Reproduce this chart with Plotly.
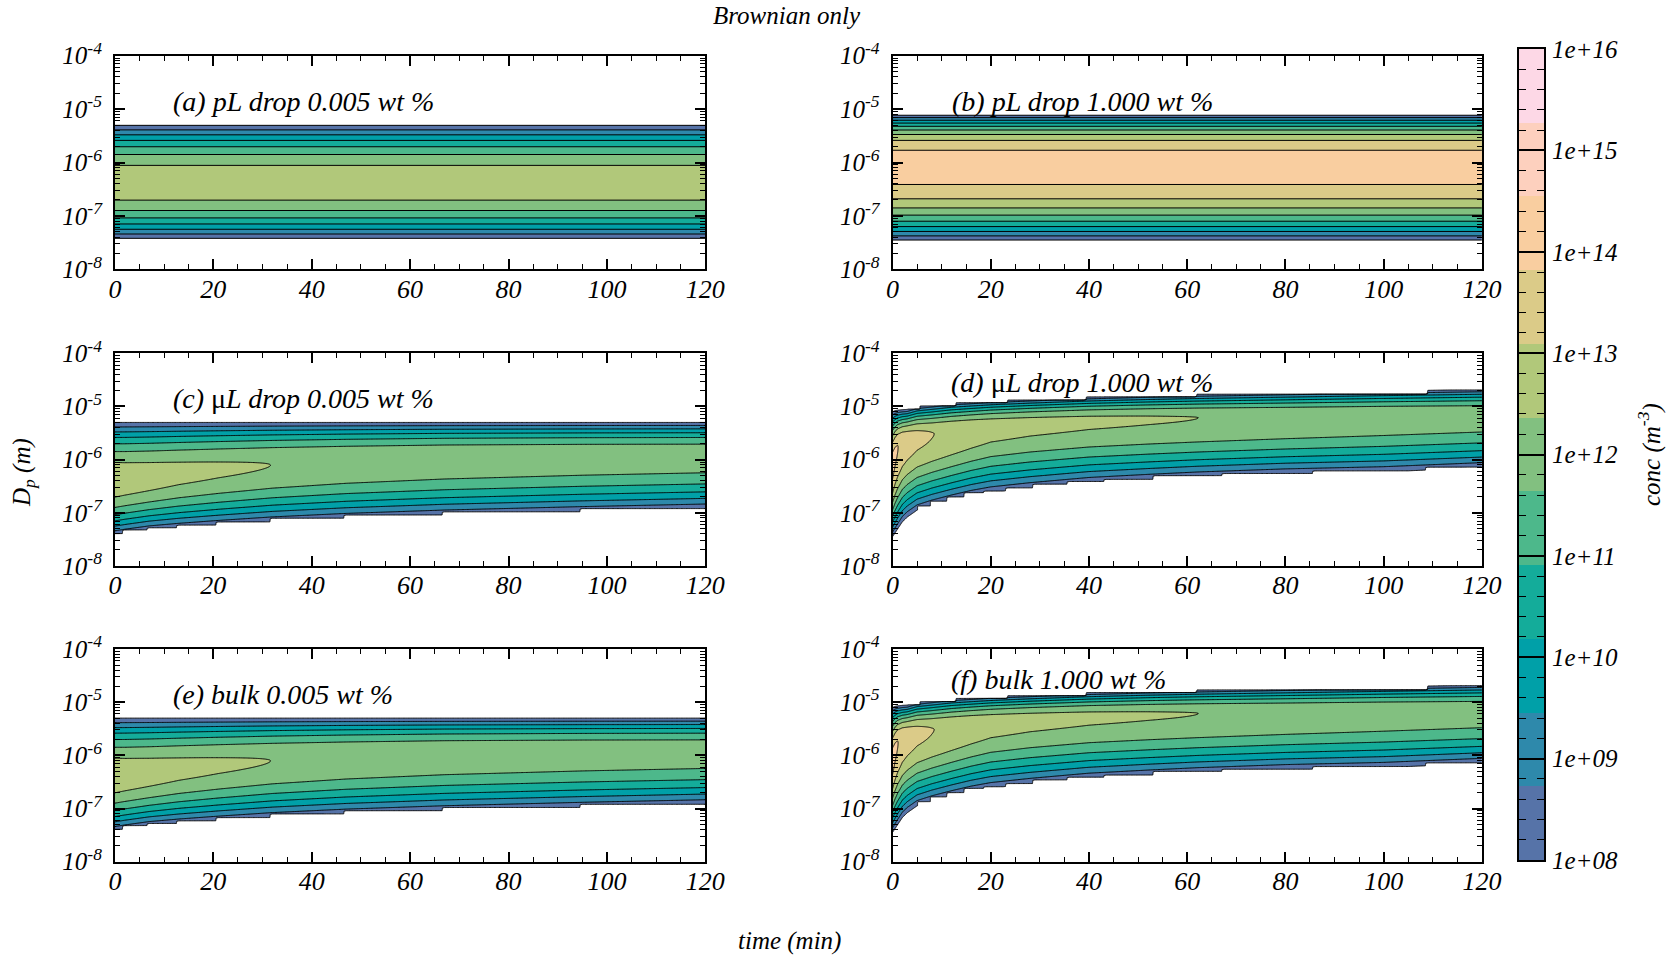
import numpy as np
import plotly.graph_objects as go

# ---------------------------------------------------------------------------
# Colour levels: log10(conc) from 1e8 to 1e16 split into 11 equal bands
# ---------------------------------------------------------------------------
LOG_CONC_MIN = 8.0
LOG_CONC_MAX = 16.0
N_BANDS = 11
BAND_COLORS = ["#5673a8", "#2e89ab", "#00a0a8", "#14ac9a", "#4db88b", "#82c080",
               "#b1c87a", "#dbcb88", "#f9cea0", "#fdd0be", "#fdd8e6"]

# ---------------------------------------------------------------------------
# Size-distribution parameters versus time (min):
#   PEAK  : log10 of the peak concentration (m^-3)
#   MODE  : log10 of the modal diameter (m)
#   EDGE_UP / EDGE_LO : log10 diameter where conc falls to 1e8 m^-3
#   CUT_* : size-grid limits (log10 m), piecewise constant from CUT_*_T on
# ---------------------------------------------------------------------------
# (a) pL drop 0.005 wt %
T_A = [0, 120]
PEAK_A = [12.82, 12.82]
MODE_A = [-6.387, -6.387]
EDGE_UP_A = [-5.304, -5.304]
EDGE_LO_A = [-7.42, -7.42]
SHAPE_A = (2.0, 2.0)

# (b) pL drop 1.000 wt %
T_B = [0, 120]
PEAK_B = [14.10, 14.10]
MODE_B = [-6.07, -6.07]
EDGE_UP_B = [-5.115, -5.115]
EDGE_LO_B = [-7.452, -7.452]
SHAPE_B = (2.65, 2.2)

# (c) uL drop 0.005 wt %  /  (e) bulk 0.005 wt %
T_C = [0, 2, 7, 13, 21, 32, 47, 67, 95, 120]
PEAK_C = [12.82, 12.77, 12.68, 12.57, 12.47, 12.36, 12.27, 12.20, 12.13, 12.08]
MODE_C = [-6.387, -6.37, -6.32, -6.25, -6.18, -6.10, -6.03, -5.97, -5.93, -5.91]
EDGE_UP_C = [-5.30, -5.30, -5.30, -5.30, -5.30, -5.30, -5.30, -5.30, -5.30, -5.30]
EDGE_LO_C = [-7.42, -7.39, -7.327, -7.283, -7.233, -7.17, -7.107, -7.045, -6.98, -6.93]
SHAPE_C = (2.0, 2.0)
CUT_LO_T_C = [0, 2, 7, 13, 21, 32, 47, 67, 95]
CUT_LO_C = [-7.39, -7.327, -7.283, -7.233, -7.17, -7.107, -7.045, -6.98, -6.92]

# (d) uL drop 1.000 wt %  /  (f) bulk 1.000 wt %
T_D = [0, 0.5, 1, 2, 3, 5, 8, 12, 16, 20, 28, 40, 52, 62, 80, 100, 120]
PEAK_D = [14.10, 13.96, 13.85, 13.62, 13.48, 13.28, 13.11, 12.95, 12.80, 12.66,
          12.56, 12.47, 12.41, 12.365, 12.27, 12.18, 12.10]
MODE_D = [-6.07, -5.90, -5.78, -5.67, -5.62, -5.56, -5.52, -5.46, -5.40, -5.35,
          -5.30, -5.25, -5.225, -5.21, -5.19, -5.16, -5.14]
EDGE_UP_D = [-5.10, -5.08, -5.07, -5.06, -5.055, -5.00, -4.97, -4.93, -4.91, -4.89,
             -4.86, -4.82, -4.79, -4.77, -4.74, -4.71, -4.68]
EDGE_LO_D = [-7.45, -7.38, -7.31, -7.17, -7.08, -6.95, -6.86, -6.765, -6.68, -6.615,
             -6.536, -6.436, -6.376, -6.33, -6.27, -6.23, -6.15]
SHAPE_D = (2.0, 2.0)
CUT_LO_T_D = [0, 5.2, 7.8, 11.3, 14.9, 18.8, 23.3, 28.6, 35.6, 43.1, 53.3, 67.4, 86.0, 108.9]
CUT_LO_D = [-9.0, -6.87, -6.78, -6.70, -6.625, -6.59, -6.53, -6.465, -6.415, -6.37,
            -6.30, -6.26, -6.21, -6.14]
CUT_UP_T_D = [0, 5.6, 12.6, 23.2, 39.5, 62.0, 108.9]
CUT_UP_D = [-5.05, -4.99, -4.93, -4.88, -4.82, -4.77, -4.69]

PANEL_LABELS = ["(a) pL drop 0.005 wt %", "(b) pL drop 1.000 wt %",
                "(c) <span style='font-style:normal'>\u03bc</span>L drop 0.005 wt %",
                "(d) <span style='font-style:normal'>\u03bc</span>L drop 1.000 wt %",
                "(e) bulk 0.005 wt %", "(f) bulk 1.000 wt %"]
LABEL_T = [11.5, 11.7, 11.5, 11.5, 11.5, 11.5]
LABEL_LOGD = [-4.85, -4.85, -4.85, -4.55, -4.85, -4.57]

TIME_TICKS = [0, 20, 40, 60, 80, 100, 120]
DP_TICK_EXP = [-8, -7, -6, -5, -4]
CONC_TICK_EXP = [8, 9, 10, 11, 12, 13, 14, 15, 16]

# ---------------------------------------------------------------------------
# Grids
# ---------------------------------------------------------------------------
LOGD_GRID = np.round(np.arange(-7.8, -4.395, 0.01), 3)
TIME_STEADY = np.array([0.0, 120.0])
TIME_C = np.arange(0.0, 120.001, 0.5)
TIME_D = np.concatenate([np.arange(0.0, 10.0, 0.1), np.arange(10.0, 120.001, 0.5)])


def step_values(times, step_t, step_v):
    idx = np.searchsorted(np.asarray(step_t, float), times, side="right") - 1
    return np.asarray(step_v, float)[np.clip(idx, 0, None)]


def conc_field(times, T, peak, mode, edge_up, edge_lo, shape,
               cut_lo=None, cut_up=None):
    p = np.interp(times, T, peak)[None, :]
    m = np.interp(times, T, mode)[None, :]
    eu = np.interp(times, T, edge_up)[None, :]
    el = np.interp(times, T, edge_lo)[None, :]
    x = LOGD_GRID[:, None]
    above = x >= m
    u = np.where(above, (x - m) / (eu - m), (m - x) / (m - el))
    k = np.where(above, shape[0], shape[1])
    z = p - (p - LOG_CONC_MIN) * np.abs(u) ** k
    if cut_lo is not None:
        lo = step_values(times, *cut_lo)[None, :]
        z = np.where(x < lo, 5.0, z)
    if cut_up is not None:
        up = step_values(times, *cut_up)[None, :]
        z = np.where(x > up, 5.0, z)
    return np.clip(z, 5.0, None).astype(np.float32)


FIELDS = [
    (TIME_STEADY, conc_field(TIME_STEADY, T_A, PEAK_A, MODE_A, EDGE_UP_A, EDGE_LO_A, SHAPE_A)),
    (TIME_STEADY, conc_field(TIME_STEADY, T_B, PEAK_B, MODE_B, EDGE_UP_B, EDGE_LO_B, SHAPE_B)),
    (TIME_C, conc_field(TIME_C, T_C, PEAK_C, MODE_C, EDGE_UP_C, EDGE_LO_C, SHAPE_C,
                        cut_lo=(CUT_LO_T_C, CUT_LO_C))),
    (TIME_D, conc_field(TIME_D, T_D, PEAK_D, MODE_D, EDGE_UP_D, EDGE_LO_D, SHAPE_D,
                        cut_lo=(CUT_LO_T_D, CUT_LO_D), cut_up=(CUT_UP_T_D, CUT_UP_D))),
    (TIME_C, conc_field(TIME_C, T_C, PEAK_C, MODE_C, EDGE_UP_C, EDGE_LO_C, SHAPE_C,
                        cut_lo=(CUT_LO_T_C, CUT_LO_C))),
    (TIME_D, conc_field(TIME_D, T_D, PEAK_D, MODE_D, EDGE_UP_D, EDGE_LO_D, SHAPE_D,
                        cut_lo=(CUT_LO_T_D, CUT_LO_D), cut_up=(CUT_UP_T_D, CUT_UP_D))),
]

# ---------------------------------------------------------------------------
# Colour scales
# ---------------------------------------------------------------------------
band_size = (LOG_CONC_MAX - LOG_CONC_MIN) / N_BANDS
n_levels = N_BANDS + 1
# contour fill: position 0 is the region below 1e8 (white); band k sits at (k+1)/n_levels
contour_scale = [[0.0, "#ffffff"], [0.5 / n_levels, "#ffffff"]]
for k, c in enumerate(BAND_COLORS):
    contour_scale += [[(k + 0.5) / n_levels, c], [min((k + 1.5) / n_levels, 1.0), c]]
contour_scale += [[(N_BANDS + 0.5) / n_levels, BAND_COLORS[-1]], [1.0, BAND_COLORS[-1]]]

bar_scale = []
for k, c in enumerate(BAND_COLORS):
    bar_scale += [[k / N_BANDS, c], [(k + 1) / N_BANDS, c]]

# ---------------------------------------------------------------------------
# Figure
# ---------------------------------------------------------------------------
W, H = 1668, 958
FONT = "Liberation Serif"
X_DOMAINS = [[114.9 / W, 705.3 / W], [892.5 / W, 1481.9 / W]]
Y_DOMAINS = [[1 - 269.3 / H, 1 - 55.7 / H], [1 - 566.0 / H, 1 - 353.3 / H],
             [1 - 861.7 / H, 1 - 649.0 / H]]

fig = go.Figure()
layout = dict(
    width=W, height=H, margin=dict(l=0, r=0, t=0, b=0, autoexpand=False),
    paper_bgcolor="white", plot_bgcolor="white", showlegend=False,
    hovermode=False,
)

x_tick_font = dict(family=FONT, size=26, color="black", style="italic")
y_tick_font = dict(family=FONT, size=25, color="black", style="italic")
minor_y_vals = [k * 10.0 ** e for e in DP_TICK_EXP[:-1] for k in range(2, 10)]

annotations = []
for i, (times, z) in enumerate(FIELDS):
    row, col = divmod(i, 2)
    n = i + 1
    xname, yname = ("x", "y") if n == 1 else (f"x{n}", f"y{n}")
    fig.add_trace(go.Contour(
        x=times, y=10.0 ** LOGD_GRID, z=z,
        xaxis=xname, yaxis=yname,
        autocontour=False,
        contours=dict(start=LOG_CONC_MIN, end=LOG_CONC_MAX, size=band_size,
                      coloring="fill", showlines=True),
        line=dict(color="black", width=1, smoothing=0),
        colorscale=contour_scale, showscale=False, hoverinfo="skip",
    ))
    xkey = "xaxis" if n == 1 else f"xaxis{n}"
    ykey = "yaxis" if n == 1 else f"yaxis{n}"
    layout[xkey] = dict(
        domain=X_DOMAINS[col], anchor=yname, range=[0, 120], automargin=False,
        tickmode="array", tickvals=TIME_TICKS, ticks="inside", ticklen=10,
        tickwidth=1.5, tickcolor="black",
        minor=dict(dtick=5, tick0=0, ticks="inside", ticklen=5, tickwidth=1.2,
                   tickcolor="black"),
        showline=True, linewidth=2, linecolor="black", mirror="allticks",
        showgrid=False, zeroline=False, tickfont=x_tick_font, ticklabelstandoff=-5,
    )
    layout[ykey] = dict(
        domain=Y_DOMAINS[row], anchor=xname, type="log", range=[-8, -4],
        automargin=False,
        tickmode="array", tickvals=[10.0 ** e for e in DP_TICK_EXP],
        ticktext=[f"10<sup>{e}</sup>" for e in DP_TICK_EXP],
        ticks="inside", ticklen=10, tickwidth=1.5, tickcolor="black",
        minor=dict(tickmode="array", tickvals=minor_y_vals, ticks="inside",
                   ticklen=5, tickwidth=1.2, tickcolor="black"),
        showline=True, linewidth=2, linecolor="black", mirror="allticks",
        showgrid=False, zeroline=False, tickfont=y_tick_font, ticklabelstandoff=6,
    )
    annotations.append(dict(
        text=PANEL_LABELS[i], x=LABEL_T[i], y=LABEL_LOGD[i], xref=xname, yref=yname,
        xanchor="left", yanchor="middle", showarrow=False,
        font=dict(family=FONT, size=28, color="black", style="italic"),
    ))

# colour bar drawn as a one-column heatmap with its own axes
levels = [LOG_CONC_MIN + k * band_size for k in range(n_levels)]
fig.add_trace(go.Heatmap(
    x=[0, 1], y=levels, z=[[k] for k in range(N_BANDS)],
    zmin=-0.5, zmax=N_BANDS - 0.5, colorscale=bar_scale, showscale=False,
    xaxis="x7", yaxis="y7", hoverinfo="skip",
))
layout["xaxis7"] = dict(
    domain=[1519 / W, 1544 / W], anchor="y7", range=[0, 1], showticklabels=False,
    automargin=False,
    ticks="", showline=True, linewidth=2, linecolor="black", mirror=True,
    showgrid=False, zeroline=False,
)
layout["yaxis7"] = dict(
    domain=[1 - 860 / H, 1 - 49 / H], anchor="x7", side="right", automargin=False,
    range=[LOG_CONC_MIN, LOG_CONC_MAX], tickmode="array", tickvals=CONC_TICK_EXP,
    ticktext=[f"1e+{e:02d}" for e in CONC_TICK_EXP],
    ticks="inside", ticklen=25, tickwidth=1.5, tickcolor="black",
    minor=dict(dtick=0.2, tick0=8, ticks="inside", ticklen=7, tickwidth=1.2,
               tickcolor="black"),
    showline=True, linewidth=2, linecolor="black", mirror="allticks",
    showgrid=False, zeroline=False, tickfont=dict(family=FONT, size=25, color="black",
                                                   style="italic"),
    ticklabelstandoff=1,
)

text_font = dict(family=FONT, size=25, color="black", style="italic")
annotations += [
    dict(text="Brownian only", x=787 / W, y=1 - 16 / H, xref="paper", yref="paper",
         showarrow=False, font=text_font, xanchor="center", yanchor="middle"),
    dict(text="time (min)", x=789 / W, y=1 - 941 / H, xref="paper", yref="paper",
         showarrow=False, font=text_font, xanchor="center", yanchor="middle"),
    dict(text="D<sub>p</sub> (m)", x=23 / W, y=1 - 473 / H, xref="paper", yref="paper",
         showarrow=False, font=text_font, textangle=-90, xanchor="center",
         yanchor="middle"),
    dict(text="conc (m<sup>-3</sup>)", x=1649 / W, y=1 - 455 / H, xref="paper",
         yref="paper", showarrow=False, font=text_font, textangle=-90,
         xanchor="center", yanchor="middle"),
]
layout["annotations"] = annotations

fig.update_layout(**layout)
fig.write_html("out.html", config={"displayModeBar": False})
